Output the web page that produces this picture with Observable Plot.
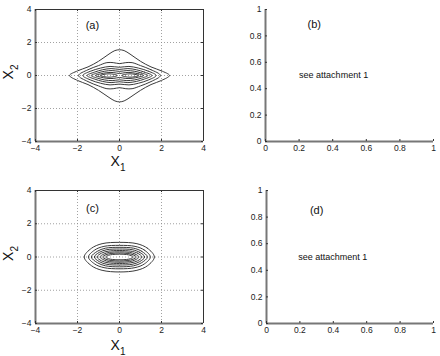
<!DOCTYPE html>
<html><head><meta charset="utf-8">
<script src="https://cdn.jsdelivr.net/npm/d3@7"></script>
<script src="https://cdn.jsdelivr.net/npm/@observablehq/plot@0.6"></script>
<style>
html,body{margin:0;padding:0;background:#fff;}
#wrap{position:relative;width:440px;height:356px;overflow:hidden;background:#fff;}
</style></head><body><div id="wrap"></div>
<script>
// ---------- data ----------
const ticksAC = [-4, -2, 0, 2, 4];
const tickLabelsAC = ["\u22124", "\u22122", "0", "2", "4"];
const gridAC = [-2, 0, 2];
const ticksBD = [0, 0.2, 0.4, 0.6, 0.8, 1];
const tickLabelsBD = ["0", "0.2", "0.4", "0.6", "0.8", "1"];
const panelTags = ["(a)", "(b)", "(c)", "(d)"];
const tagX = [-1.29, 0.29, -1.29, 0.3];
const tagY = [3.03, 0.886, 2.92, 0.85];
const noteText = "see attachment 1";
const noteX = [0.2, 0.19];
const noteY = [0.5, 0.5];

// panel (a) contour lines
const a1 = [[2.38,0],[2.0,0.28],[1.5,0.52],[1.0,0.86],[0.5,1.3],[0.22,1.51],[0,1.56],[-0.22,1.51],[-0.5,1.3],[-1.0,0.86],[-1.5,0.52],[-2.0,0.28],[-2.38,0],[-2.0,-0.3],[-1.5,-0.55],[-1.0,-0.9],[-0.5,-1.33],[-0.22,-1.54],[0,-1.6],[0.22,-1.54],[0.5,-1.33],[1.0,-0.9],[1.5,-0.55],[2.0,-0.3]];
const a2 = [[1.95,0],[1.5,0.35],[1.0,0.6],[0.6,0.78],[0.3,0.78],[0,0.72],[-0.3,0.78],[-0.6,0.78],[-1.0,0.6],[-1.5,0.35],[-1.95,0],[-1.5,-0.37],[-1.0,-0.63],[-0.6,-0.8],[-0.3,-0.8],[0,-0.74],[0.3,-0.8],[0.6,-0.8],[1.0,-0.63],[1.5,-0.37]];
const a3 = [[1.75,0],[1.4,0.25],[0.9,0.45],[0.45,0.55],[0,0.5],[-0.45,0.55],[-0.9,0.45],[-1.4,0.25],[-1.75,0],[-1.4,-0.26],[-0.9,-0.47],[-0.45,-0.57],[0,-0.52],[0.45,-0.57],[0.9,-0.47],[1.4,-0.26]];
const a4 = [[1.55,0],[1.2,0.2],[0.8,0.35],[0.4,0.42],[0,0.37],[-0.4,0.42],[-0.8,0.35],[-1.2,0.2],[-1.55,0],[-1.2,-0.21],[-0.8,-0.36],[-0.4,-0.43],[0,-0.38],[0.4,-0.43],[0.8,-0.36],[1.2,-0.21]];
const a5 = [[1.35,0],[1.05,0.15],[0.7,0.26],[0.35,0.3],[0,0.25],[-0.35,0.3],[-0.7,0.26],[-1.05,0.15],[-1.35,0],[-1.05,-0.16],[-0.7,-0.27],[-0.35,-0.31],[0,-0.26],[0.35,-0.31],[0.7,-0.27],[1.05,-0.16]];
const a6 = [[1.15,0],[0.9,0.1],[0.6,0.17],[0.3,0.18],[0,0.12],[-0.3,0.18],[-0.6,0.17],[-0.9,0.1],[-1.15,0],[-0.9,-0.1],[-0.6,-0.17],[-0.3,-0.18],[0,-0.12],[0.3,-0.18],[0.6,-0.17],[0.9,-0.1]];
const a7r = [[0.92,0],[0.75,0.07],[0.5,0.1],[0.25,0.07],[0.1,0],[0.25,-0.07],[0.5,-0.1],[0.75,-0.07]];
const a7l = [[-0.92,0],[-0.75,0.07],[-0.5,0.1],[-0.25,0.07],[-0.1,0],[-0.25,-0.07],[-0.5,-0.1],[-0.75,-0.07]];

// panel (c) contour lines
const c1 = [[1.66,0],[1.34,0.52],[0.83,0.8],[0,0.88],[-0.83,0.8],[-1.34,0.52],[-1.68,0],[-1.34,-0.52],[-0.83,-0.8],[0,-0.9],[0.83,-0.8],[1.34,-0.52]];
const c2 = [[1.47,0],[1.18,0.42],[0.74,0.64],[0,0.7],[-0.74,0.64],[-1.18,0.42],[-1.48,0],[-1.18,-0.42],[-0.74,-0.64],[0,-0.71],[0.74,-0.64],[1.18,-0.42]];
const c3 = [[1.33,0],[1.06,0.34],[0.67,0.53],[0,0.58],[-0.67,0.53],[-1.06,0.34],[-1.34,0],[-1.06,-0.34],[-0.67,-0.53],[0,-0.59],[0.67,-0.53],[1.06,-0.34]];
const c4 = [[1.2,0],[0.96,0.28],[0.6,0.44],[0,0.48],[-0.6,0.44],[-0.96,0.28],[-1.2,0],[-0.96,-0.28],[-0.6,-0.44],[0,-0.48],[0.6,-0.44],[0.96,-0.28]];
const c5 = [[1.07,0],[0.86,0.23],[0.54,0.35],[0,0.39],[-0.54,0.35],[-0.86,0.23],[-1.07,0],[-0.86,-0.23],[-0.54,-0.35],[0,-0.39],[0.54,-0.35],[0.86,-0.23]];
const c6 = [[0.93,0],[0.74,0.18],[0.47,0.28],[0,0.31],[-0.47,0.28],[-0.74,0.18],[-0.93,0],[-0.74,-0.18],[-0.47,-0.28],[0,-0.31],[0.47,-0.28],[0.74,-0.18]];
const c7 = [[0.8,0],[0.64,0.14],[0.4,0.21],[0,0.24],[-0.4,0.21],[-0.64,0.14],[-0.8,0],[-0.64,-0.14],[-0.4,-0.21],[0,-0.24],[0.4,-0.21],[0.64,-0.14]];
const c8 = [[0.66,0],[0.53,0.1],[0.33,0.15],[0,0.17],[-0.33,0.15],[-0.53,0.1],[-0.66,0],[-0.53,-0.1],[-0.33,-0.15],[0,-0.17],[0.33,-0.15],[0.53,-0.1]];

// ---------- drawing ----------
const FONT = "'Liberation Sans', Arial, Helvetica, sans-serif";
const wrap = document.getElementById("wrap");
const rows = (list) => list.flatMap((c, i) => c.map(([x, y]) => ({id: i, x, y})));
const fmt = (ticks, labels) => (d) => labels[ticks.indexOf(d)];

function ticksMarks(xt, yt, fw, fh, box, len) {
  const st = {stroke: "#333", strokeWidth: 1};
  const m = [
    Plot.tickX(xt, {x: (d) => d, insetTop: fh - len, ...st}),
    Plot.tickY(yt, {y: (d) => d, insetRight: fw - len, ...st})
  ];
  if (box) {
    m.push(Plot.tickX(xt, {x: (d) => d, insetBottom: fh - len, ...st}));
    m.push(Plot.tickY(yt, {y: (d) => d, insetLeft: fw - len, ...st}));
  }
  return m;
}

function panel(g, marks, contour) {
  const fw = g.width - g.ml - g.mr, fh = g.height - g.mt - g.mb;
  const xt = contour ? ticksAC : ticksBD, xl = contour ? tickLabelsAC : tickLabelsBD;
  const dom = contour ? [-4, 4] : [0, 1];
  const all = [];
  if (contour) {
    all.push(Plot.gridX(gridAC, {stroke: "#8a8a8a", strokeOpacity: 1, strokeWidth: 0.8, strokeDasharray: "1,2"}));
    all.push(Plot.gridY(gridAC, {stroke: "#8a8a8a", strokeOpacity: 1, strokeWidth: 0.8, strokeDasharray: "1,2"}));
  }
  all.push(...marks);
  if (contour) {
    all.push(Plot.ruleY([dom[1]], {stroke: "#333", strokeWidth: 1}));
    all.push(Plot.ruleX([dom[1]], {stroke: "#333", strokeWidth: 1}));
  }
  all.push(Plot.ruleY([dom[0]], {stroke: "#777", strokeWidth: 2}));
  all.push(Plot.ruleX([dom[0]], {stroke: "#777", strokeWidth: 2}));
  all.push(...ticksMarks(xt, xt, fw, fh, contour, 2));
  all.push(Plot.axisX(xt, {tickSize: 0, tickPadding: 3, tickFormat: fmt(xt, xl), fill: "#222", label: null}));
  all.push(Plot.axisY(xt, {tickSize: 0, tickPadding: 4, tickFormat: fmt(xt, xl), fill: "#222", label: null}));
  const svg = Plot.plot({
    width: g.width, height: g.height,
    marginLeft: g.ml, marginRight: g.mr, marginTop: g.mt, marginBottom: g.mb,
    x: {domain: dom, label: null}, y: {domain: dom, label: null},
    style: {fontFamily: FONT, fontSize: "8.5px", color: "#222", background: "transparent", overflow: "visible"},
    marks: all
  });
  svg.style.position = "absolute";
  svg.style.left = g.left + "px";
  svg.style.top = g.top + "px";
  wrap.appendChild(svg);
  if (contour) {
    const s = d3.select(svg);
    const cx = g.ml + fw / 2 - 1;
    const t1 = s.append("text").attr("x", cx).attr("y", g.mt + fh + g.xlab)
      .attr("text-anchor", "middle").attr("font-family", FONT).attr("font-size", 14).attr("fill", "#111");
    t1.append("tspan").text("X");
    t1.append("tspan").attr("font-size", 10).attr("dy", 5).text("1");
    const cy = g.mt + fh / 2 - 3;
    const t2 = s.append("text").attr("transform", `translate(13,${cy}) rotate(-90)`)
      .attr("text-anchor", "middle").attr("font-family", FONT).attr("font-size", 14).attr("fill", "#111");
    t2.append("tspan").text("X");
    t2.append("tspan").attr("font-size", 10).attr("dy", 5).text("2");
  }
  return svg;
}

const lineStyle = {x: "x", y: "y", z: "id", curve: "catmull-rom-closed", stroke: "#3a3a3a", strokeWidth: 1};

panel({left: 0, top: 0, width: 220, height: 178, ml: 35, mr: 17, mt: 9, mb: 37, xlab: 25}, [
  Plot.line(rows([a1, a2, a3, a4, a5, a6, a7r, a7l]), lineStyle),
  Plot.text([0], {x: () => tagX[0], y: () => tagY[0], text: () => panelTags[0], fontSize: 11, fill: "#111"})
], true);

panel({left: 220, top: 0, width: 220, height: 178, ml: 45, mr: 7, mt: 9, mb: 37}, [
  Plot.text([0], {x: () => tagX[1], y: () => tagY[1], text: () => panelTags[1], fontSize: 11, fill: "#111"}),
  Plot.text([0], {x: () => noteX[0], y: () => noteY[0], text: () => noteText, textAnchor: "start", fontSize: 9, fill: "#111"})
], false);

panel({left: 0, top: 178, width: 220, height: 178, ml: 35, mr: 17, mt: 12, mb: 33, xlab: 27}, [
  Plot.line(rows([c1, c2, c3, c4, c5, c6, c7, c8]), lineStyle),
  Plot.text([0], {x: () => tagX[2], y: () => tagY[2], text: () => panelTags[2], fontSize: 11, fill: "#111"})
], true);

panel({left: 220, top: 178, width: 220, height: 178, ml: 46, mr: 7, mt: 12, mb: 33}, [
  Plot.text([0], {x: () => tagX[3], y: () => tagY[3], text: () => panelTags[3], fontSize: 11, fill: "#111"}),
  Plot.text([0], {x: () => noteX[1], y: () => noteY[1], text: () => noteText, textAnchor: "start", fontSize: 9, fill: "#111"})
], false);
</script>
</body></html>
